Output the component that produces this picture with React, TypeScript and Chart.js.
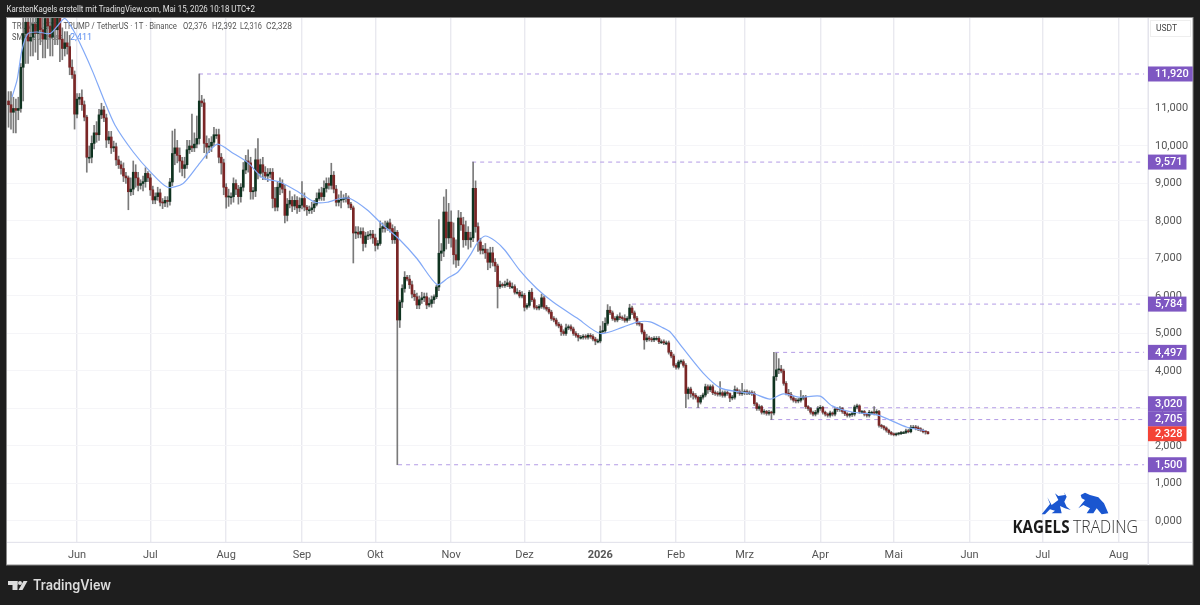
import React, { useEffect, useRef } from "react";
import { Chart, registerables } from "chart.js";

Chart.register(...registerables);

const closes = [
  11.10,10.90,11.00,10.95,11.00,12.10,13.00,13.30,12.80,12.90,
  13.25,13.00,13.60,13.10,12.85,13.40,13.20,12.90,13.45,13.10,
  13.50,12.85,12.60,12.75,12.65,12.10,11.90,10.85,11.25,11.30,
  11.10,10.77,9.70,9.70,10.07,10.35,10.30,10.83,10.96,10.75,
  10.16,10.24,9.95,9.98,9.63,9.50,9.40,9.20,9.15,8.78,
  8.85,9.30,9.15,8.95,9.00,9.05,9.27,9.15,8.83,8.56,
  8.65,8.75,8.50,8.48,8.55,8.52,9.04,9.80,9.95,9.75,
  9.60,9.40,9.50,9.90,10.00,9.95,10.05,10.20,11.20,11.15,
  10.07,9.97,10.00,10.10,10.30,10.30,9.70,9.55,8.90,8.64,
  8.65,8.65,9.00,8.85,8.65,8.90,9.36,9.60,9.55,8.78,
  8.80,9.63,9.27,9.50,9.30,9.20,9.25,9.30,8.60,8.37,
  8.90,9.00,8.85,8.15,8.45,8.55,8.40,8.55,8.35,8.42,
  8.60,8.37,8.30,8.30,8.35,8.45,8.60,8.75,8.65,8.87,
  9.00,8.95,9.22,8.85,8.50,8.55,8.60,8.60,8.62,8.45,
  8.35,7.68,7.70,7.65,7.72,7.40,7.60,7.62,7.65,7.55,
  7.35,7.40,7.80,7.85,7.80,7.95,7.80,7.50,7.70,5.36,
  5.84,6.20,6.50,6.45,6.30,6.05,5.98,5.76,5.90,5.95,
  5.98,5.76,5.80,5.90,5.98,6.24,7.14,7.20,8.24,7.55,
  7.97,7.55,7.10,6.96,8.08,7.90,7.50,7.70,7.50,7.55,
  8.87,7.85,7.44,7.22,7.25,7.15,6.90,7.15,6.90,6.80,
  6.25,6.30,6.28,6.30,6.35,6.25,6.25,6.10,6.10,6.00,
  6.02,5.70,5.75,6.10,5.90,5.70,5.68,5.72,5.95,5.70,
  5.65,5.57,5.40,5.36,5.25,5.20,5.05,5.00,5.15,5.18,
  5.12,5.00,4.95,4.90,4.90,4.92,4.90,4.95,4.92,4.85,
  4.80,4.80,5.05,5.07,5.27,5.62,5.55,5.40,5.36,5.45,
  5.42,5.40,5.35,5.40,5.68,5.55,5.41,5.27,5.25,5.04,
  4.83,4.88,4.85,4.83,4.87,4.87,4.78,4.78,4.75,4.75,
  4.50,4.40,4.15,4.10,4.24,4.25,4.15,3.40,3.52,3.40,
  3.35,3.30,3.17,3.30,3.36,3.58,3.50,3.58,3.42,3.40,
  3.38,3.42,3.35,3.42,3.40,3.28,3.30,3.50,3.45,3.40,
  3.42,3.45,3.42,3.42,3.40,3.13,3.00,3.05,2.90,2.92,
  2.87,2.90,2.88,3.85,4.03,4.05,4.00,3.67,3.41,3.38,
  3.28,3.22,3.20,3.22,3.28,3.30,3.05,3.00,2.90,2.85,
  2.90,3.00,3.03,2.90,2.85,2.82,2.88,2.85,2.98,2.97,
  3.00,2.92,2.86,2.82,2.84,2.85,3.04,3.07,2.92,2.92,
  2.85,2.82,2.90,2.90,2.88,2.92,2.55,2.52,2.48,2.42,
  2.36,2.32,2.30,2.32,2.33,2.36,2.36,2.40,2.38,2.50,
  2.50,2.48,2.46,2.42,2.38,2.376,2.328,
];

const upperWicks = [
  .25,.35,.30,.25,.30,.10,.90,.80,.60,.70,
  .90,.70,.80,.60,.50,.70,.40,.50,.60,.40,
  .70,.40,.30,.30,.30,.30,.20,.10,.15,.10,
  .20,.10,.05,.30,.20,.20,.30,.15,.18,.10,
  .10,.15,.15,.15,.10,.10,.10,.15,.10,.05,
  .30,.30,.20,.15,.10,.15,.15,.05,.10,.10,
  .10,.15,.10,.10,.10,.10,.10,.60,.50,.20,
  .20,.10,.20,.25,.15,.85,.30,.60,.72,.15,
  .10,.20,.20,.15,.20,.15,.15,.10,.10,.10,
  .20,.10,.15,.10,.10,.10,.20,.15,.30,.15,
  .10,.30,.57,.15,.20,.15,.15,.10,.10,.30,
  .15,.15,.10,.10,.15,.25,.10,.15,.10,.20,
  .45,.15,.05,.10,.15,.10,.15,.10,.15,.20,
  .15,.15,.32,.10,.10,.15,.20,.10,.12,.05,
  .05,.05,.15,.15,.10,.10,.10,.10,.10,.10,
  .10,.08,.20,.10,.15,.05,.10,.10,.15,.05,
  .05,.10,.15,.05,.10,.10,.10,.10,.10,.15,
  .10,.10,.15,.10,.05,.05,.90,.20,.40,.60,
  .50,.30,.40,.40,.20,.15,.20,.30,.15,.15,
  .70,.20,.10,.10,.10,.15,.10,.15,.15,.10,
  .05,.10,.05,.10,.10,.05,.10,.05,.10,.05,
  .10,.05,.05,.05,.10,.05,.05,.05,.10,.05,
  .05,.05,.05,.05,.05,.05,.05,.05,.10,.05,
  .05,.05,.05,.05,.05,.05,.05,.05,.05,.05,
  .05,.05,.15,.25,.15,.15,.10,.05,.05,.05,
  .10,.05,.10,.05,.10,.05,.05,.05,.05,.02,
  .05,.10,.05,.05,.05,.05,.05,.05,.05,.05,
  .05,.05,.05,.05,.05,.05,.05,.05,.05,.05,
  .05,.05,.03,.05,.05,.07,.05,.05,.05,.05,
  .05,.30,.05,.05,.05,.02,.05,.10,.05,.05,
  .25,.05,.05,.05,.05,.05,.03,.05,.03,.05,
  .03,.05,.03,.65,.45,.28,.10,.05,.05,.10,
  .05,.05,.05,.05,.20,.05,.05,.03,.03,.03,
  .05,.05,.05,.03,.03,.03,.05,.03,.05,.05,
  .05,.03,.03,.03,.03,.05,.05,.05,.03,.03,
  .03,.03,.05,.03,.15,.05,.03,.03,.03,.03,
  .03,.03,.03,.03,.03,.03,.03,.05,.05,.05,
  .05,.05,.05,.03,.03,.016,.016,
];

const lowerWicks = [
  .60,.45,.55,.60,.25,.10,.90,.80,.60,.40,
  .50,.50,.70,.40,.50,.50,.60,.50,.50,.40,
  .40,.60,.30,.20,.20,.20,.10,.40,.10,.15,
  .15,.10,.40,.15,.15,.15,.20,.15,.10,.10,
  .20,.10,.15,.10,.15,.10,.15,.15,.15,.48,
  .10,.15,.25,.15,.10,.20,.15,.10,.15,.10,
  .10,.10,.10,.15,.10,.15,.10,.10,.30,.20,
  .30,.20,.25,.10,.10,.10,.10,.10,.15,.10,
  .25,.30,.15,.15,.10,.10,.15,.30,.20,.30,
  .25,.20,.15,.15,.20,.15,.10,.10,.25,.20,
  .20,.15,.15,.10,.20,.10,.15,.10,.25,.10,
  .10,.20,.10,.20,.15,.10,.15,.10,.15,.10,
  .10,.10,.15,.10,.10,.10,.05,.05,.10,.10,
  .10,.10,.10,.10,.10,.10,.20,.10,.10,.10,
  .05,.80,.15,.10,.10,.20,.10,.10,.10,.15,
  .15,.10,.05,.10,.10,.05,.10,.10,.10,3.86,
  .20,.15,.10,.05,.10,.10,.10,.10,.10,.10,
  .10,.10,.05,.10,.10,.05,.10,.20,.15,.30,
  .15,.25,.25,.20,.15,.15,.20,.15,.25,.20,
  .10,.15,.25,.10,.10,.15,.20,.15,.10,.15,
  .57,.05,.05,.05,.05,.05,.05,.05,.05,.05,
  .05,.10,.05,.05,.05,.05,.05,.05,.05,.05,
  .05,.05,.05,.05,.05,.05,.10,.05,.05,.05,
  .05,.05,.05,.10,.05,.05,.05,.05,.05,.05,
  .10,.05,.05,.05,.05,.05,.05,.05,.05,.05,
  .05,.05,.05,.05,.05,.05,.05,.05,.05,.05,
  .25,.05,.05,.05,.05,.05,.05,.05,.05,.05,
  .05,.05,.05,.05,.05,.05,.05,.38,.15,.10,
  .10,.05,.15,.05,.05,.05,.10,.05,.05,.05,
  .05,.05,.05,.05,.05,.10,.05,.05,.05,.05,
  .05,.05,.05,.05,.05,.05,.05,.05,.05,.05,
  .05,.05,.175,.05,.10,.10,.05,.05,.05,.05,
  .05,.05,.05,.05,.05,.05,.05,.05,.05,.05,
  .05,.05,.05,.05,.05,.05,.05,.05,.05,.05,
  .05,.05,.05,.05,.05,.05,.05,.05,.05,.05,
  .05,.05,.05,.05,.05,.05,.05,.05,.05,.05,
  .05,.03,.03,.03,.03,.03,.03,.03,.03,.03,
  .03,.05,.05,.03,.03,.06,.012,
];

const smaIndex = [1.4,3.5,5.5,8,11.6,17,20,23,26.4,30.5,34.5,38.6,43.5,51,58,65,71.4,78.3,85.3,92,98,104,111,118.4,125.3,130.3,135.6,139.7,146.6,153,160,167,175.3,179.7,183.8,188.8,192,194.9,199,203,209,216,222.7,232.5,242,251.3,257.5,262.4,267.7,270.6,275.9,284,291,299,304.5,311.4,316.8,323.7,331.9,336.8,345.4,355.2,367.5,374.8];
const smaValues = [11.3,11.76,12.56,13.0,13.04,13.0,13.2,13.4,13.1,12.56,11.97,11.3,10.56,9.84,9.31,8.9,9.0,9.55,10.05,9.8,9.55,9.15,9.04,8.78,8.5,8.5,8.6,8.6,8.3,7.9,7.5,7.0,6.3,6.48,6.64,7.09,7.44,7.6,7.47,7.22,6.69,6.2,5.84,5.41,5.0,5.17,5.31,5.31,5.15,5.04,4.6,3.95,3.55,3.44,3.4,3.25,3.39,3.3,3.33,3.07,2.9,2.83,2.5,2.41];

const levelValues = [11.92, 9.571, 5.784, 4.497, 3.02, 2.705, 1.5];
const levelStarts = [77.9, 189.6, 255, 313.5, 277.9, 311.5, 159.3];
const levelEnd = 464.4;
const lastPrice = 2.328;

const monthTicks = [28, 58, 89, 120, 150, 181, 211, 242, 273, 301, 332, 362, 393, 423, 454];
const monthLabels = ["Jun", "Jul", "Aug", "Sep", "Okt", "Nov", "Dez", "2026", "Feb", "Mrz", "Apr", "Mai", "Jun", "Jul", "Aug"];
const priceTicks = [0, 1, 2, 3, 4, 5, 6, 7, 8, 9, 10, 11];
const ohlcLabels = ["O2,376", "H2,392", "L2,316", "C2,328"];

const fmt = (v: number) => v.toFixed(3).replace(".", ",");
const FONT = 'Roboto, sans-serif';

const opens = closes.map((_, i) => (i === 0 ? 11.2 : closes[i - 1]));

const bullShape = [[275,403],[300,372],[292,352],[305,375],[325,360],[315,340],[325,348],[345,345],[342,337],[350,350],[343,365],[350,380],[362,390],[345,385],[330,378],[335,400],[305,400],[315,392],[300,388],[285,403]];
const bearShape = [[392,345],[405,338],[420,345],[445,352],[462,370],[475,400],[455,403],[440,385],[430,400],[410,400],[420,385],[400,375],[385,385],[398,368],[405,360],[395,355]];

const fitText = (c: any, t: string, x: number, y: number, w: number) => {
  const m = c.measureText(t).width;
  c.save();
  c.translate(x, y);
  c.scale(w / m, 1);
  c.fillText(t, 0, 0);
  c.restore();
};

const frame = {
  id: "frame",
  beforeDraw(chart: any) {
    const c = chart.ctx;
    c.save();
    c.fillStyle = "#1e1e1e";
    c.fillRect(0, 0, 1200, 605);
    c.fillStyle = "#ffffff";
    c.fillRect(6.5, 18, 1186.5, 547);
    c.strokeStyle = "#8a8a8a";
    c.lineWidth = 1;
    c.strokeRect(6.5, 17.5, 1186.5, 547.5);
    c.fillStyle = "#e0e0e0";
    c.font = `8.5px ${FONT}`;
    c.textBaseline = "middle";
    fitText(c, "KarstenKagels erstellt mit TradingView.com, Mai 15, 2026 10:18 UTC+2", 6.5, 9.5, 248.5);
    c.restore();
  },
  beforeDatasetsDraw(chart: any) {
    const c = chart.ctx;
    c.save();
    c.textBaseline = "middle";
    c.font = `9px ${FONT}`;
    c.fillStyle = "#555555";
    fitText(c, "TRUMPUSDT · TRUMP / TetherUS · 1T · Binance", 12, 27, 165);
    const ox = [183, 212, 240, 266];
    const ow = [24, 24.5, 22, 26];
    ohlcLabels.forEach((t, i) => fitText(c, t, ox[i], 27, ow[i]));
    fitText(c, "SMA (20) close", 12, 38, 51);
    c.fillStyle = "#5b8def";
    c.fillText("2,411", 70, 38);
    c.restore();
  },
  afterDraw(chart: any) {
    const c = chart.ctx;
    const y = chart.scales.y;
    c.save();
    c.fillStyle = "#e4e4ec";
    c.fillRect(1147.5, 18, 1.5, 547);
    c.fillRect(7, 541.8, 1185, 1.2);
    c.fillStyle = "#fff";
    c.strokeStyle = "#eeeeee";
    c.strokeRect(1150.5, 20.5, 40, 16);
    c.fillStyle = "#444";
    c.font = `8.5px ${FONT}`;
    c.textBaseline = "middle";
    c.fillText("USDT", 1156, 29);
    const badges = levelValues.map((v) => ({ v, col: "#7e57c2" }));
    badges.push({ v: lastPrice, col: "#f44336" });
    badges.sort((a, b) => a.v - b.v);
    let prevTop = Infinity;
    c.font = `500 11px ${FONT}`;
    const placed = badges.map((b) => {
      let cy = y.getPixelForValue(b.v);
      if (cy + 7.5 > prevTop) cy = prevTop - 7.5;
      prevTop = cy - 7.5;
      return { ...b, cy };
    });
    placed.forEach((b) => {
      const w = c.measureText(fmt(b.v)).width;
      c.fillStyle = b.col;
      c.fillRect(1148, b.cy - 7.5, 7 + w + 4, 15);
    });
    placed.forEach((b) => {
      c.fillStyle = "#ffffff";
      c.fillText(fmt(b.v), 1155, b.cy + 0.5);
    });
    const shape = (pts: number[][]) => {
      c.beginPath();
      pts.forEach(([px, py], i) => {
        const X = 950 + px / 3;
        const Y = 380 + py / 3;
        if (i) c.lineTo(X, Y);
        else c.moveTo(X, Y);
      });
      c.closePath();
      c.fill();
    };
    c.fillStyle = "#1a56d0";
    shape(bullShape);
    shape(bearShape);
    c.textBaseline = "alphabetic";
    c.fillStyle = "#1a1a1a";
    c.font = `700 17.5px "Open Sans", sans-serif`;
    fitText(c, "KAGELS", 1012.5, 533, 57);
    c.fillStyle = "#333";
    c.font = `300 17.5px "Open Sans", sans-serif`;
    fitText(c, "TRADING", 1073, 533, 65);
    c.fillStyle = "#dcdcdc";
    c.fillRect(8, 581, 9.5, 4);
    c.fillRect(12.5, 581, 5, 9);
    c.beginPath();
    c.arc(20, 583, 2, 0, Math.PI * 2);
    c.fill();
    c.beginPath();
    c.moveTo(23.5, 581);
    c.lineTo(27.5, 581);
    c.lineTo(22.5, 590);
    c.lineTo(18.5, 590);
    c.closePath();
    c.fill();
    c.textBaseline = "middle";
    c.font = `600 14px Inter, sans-serif`;
    fitText(c, "TradingView", 33, 585.5, 78);
    c.restore();
  },
};

export default function App() {
  const ref = useRef<HTMLCanvasElement>(null);
  useEffect(() => {
    const wick = closes.map((cl, i) => ({
      x: i,
      y: [Math.min(opens[i], cl) - lowerWicks[i], Math.max(opens[i], cl) + upperWicks[i]],
    }));
    const body = closes.map((cl, i) => ({ x: i, y: [opens[i], cl] }));
    const bodyColors = closes.map((cl, i) => (cl >= opens[i] ? "#0f3320" : "#7a2626"));
    const datasets: any[] = [
      {
        type: "line",
        data: smaIndex.map((x, i) => ({ x, y: smaValues[i] })),
        borderColor: "#82a9f7",
        borderWidth: 1.2,
        pointRadius: 0,
        tension: 0.25,
        order: 0,
      },
      {
        type: "bar",
        data: body,
        backgroundColor: bodyColors,
        barThickness: 2,
        minBarLength: 1,
        grouped: false,
        order: 1,
      },
      {
        type: "bar",
        data: wick,
        backgroundColor: "#7a7a7a",
        barThickness: 1,
        grouped: false,
        order: 2,
      },
      ...levelValues.map((v, i) => ({
        type: "line",
        data: [
          { x: levelStarts[i], y: v },
          { x: levelEnd, y: v },
        ],
        borderColor: "#b49ce6",
        borderWidth: 1,
        borderDash: [4, 4],
        pointRadius: 0,
        order: 3,
      })),
    ];
    const chart = new Chart(ref.current as HTMLCanvasElement, {
      type: "bar",
      data: { datasets },
      plugins: [frame],
      options: {
        animation: false,
        responsive: false,
        devicePixelRatio: 1,
        layout: { padding: { left: 7, top: 18, right: 0, bottom: 0 } },
        plugins: { legend: { display: false }, tooltip: { enabled: false } },
        scales: {
          x: {
            type: "linear",
            offset: false,
            min: -0.63,
            max: 466,
            afterBuildTicks: (s: any) => {
              s.ticks = monthTicks.map((value) => ({ value }));
            },
            afterFit: (s: any) => {
              s.height = 63;
            },
            grid: { color: "#e9e9ef", lineWidth: 1.4, drawTicks: false, offset: false },
            border: { display: false },
            ticks: {
              autoSkip: false,
              maxRotation: 0,
              padding: 7,
              color: "#555555",
              callback: (_v: any, i: number) => monthLabels[i],
              font: (ctx: any) =>
                ctx.tick && ctx.tick.label === "2026"
                  ? { family: "Roboto", size: 11, weight: "bold" }
                  : { family: "Roboto", size: 11 },
            },
          },
          y: {
            position: "right",
            min: -0.56,
            max: 13.413,
            afterBuildTicks: (s: any) => {
              s.ticks = priceTicks.map((value) => ({ value }));
            },
            afterFit: (s: any) => {
              s.width = 52;
            },
            grid: { color: "#f5f5f8", lineWidth: 1, drawTicks: false },
            border: { display: false },
            ticks: {
              padding: 7,
              color: "#555555",
              callback: (v: any) => fmt(Number(v)),
              font: { family: "Roboto", size: 11 },
            },
          },
        },
      } as any,
    } as any);
    return () => chart.destroy();
  }, []);
  return (
    <div style={{ position: "fixed", left: 0, top: 0, width: 1200, height: 605 }}>
      <canvas ref={ref} width={1200} height={605} style={{ display: "block", filter: "blur(0.3px)" }} />
    </div>
  );
}
